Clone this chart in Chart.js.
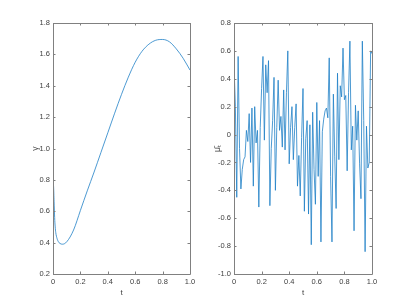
<!DOCTYPE html>
<html>
<head>
<meta charset="utf-8">
<script src="https://cdn.jsdelivr.net/npm/chart.js@4/dist/chart.umd.min.js"></script>
<style>
  html, body { margin: 0; padding: 0; background: #fff; }
  body { width: 411px; height: 308px; position: relative; overflow: hidden; }
  .panel { position: absolute; top: 0; }
</style>
</head>
<body>
<div class="panel" style="left:0;width:200px;height:308px"><canvas id="gamma"></canvas></div>
<div class="panel" style="left:200px;width:211px;height:308px"><canvas id="mu"></canvas></div>
<script>
// left panel: gamma(t)
var tGamma = [0, 0.004, 0.008, 0.012, 0.016, 0.02, 0.03, 0.04, 0.05, 0.07, 0.1, 0.15, 0.2, 0.25, 0.3, 0.35, 0.4, 0.45, 0.5, 0.55, 0.6, 0.65, 0.7, 0.75, 0.8, 0.85, 0.9, 0.95, 1];
var gamma = [0.78, 0.76, 0.66, 0.56, 0.5, 0.465, 0.425, 0.405, 0.395, 0.39, 0.405, 0.48, 0.605, 0.73, 0.85, 0.975, 1.1, 1.225, 1.345, 1.455, 1.55, 1.62, 1.665, 1.69, 1.695, 1.68, 1.635, 1.575, 1.5];

// right panel: mu bar_t
var tMu = [0, 0.01, 0.02, 0.03, 0.04, 0.05, 0.06, 0.07, 0.08, 0.09,
  0.1, 0.11, 0.12, 0.13, 0.14, 0.15, 0.16, 0.17, 0.18, 0.19,
  0.2, 0.21, 0.22, 0.23, 0.24, 0.25, 0.26, 0.27, 0.28, 0.29,
  0.3, 0.31, 0.32, 0.33, 0.34, 0.35, 0.36, 0.37, 0.38, 0.39,
  0.4, 0.41, 0.42, 0.43, 0.44, 0.45, 0.46, 0.47, 0.48, 0.49,
  0.5, 0.51, 0.52, 0.53, 0.54, 0.55, 0.56, 0.57, 0.58, 0.59,
  0.6, 0.61, 0.62, 0.63, 0.64, 0.65, 0.66, 0.67, 0.68, 0.69,
  0.7, 0.71, 0.72, 0.73, 0.74, 0.75, 0.76, 0.77, 0.78, 0.79,
  0.8, 0.81, 0.82, 0.83, 0.84, 0.85, 0.86, 0.87, 0.88, 0.89,
  0.9, 0.91, 0.92, 0.93, 0.94, 0.95, 0.96, 0.97, 0.98, 0.99, 1];
var mu = [0.5, 0.2, -0.45, 0.56, -0.1, -0.39, -0.25, -0.18, -0.16, 0.03,
  -0.05, 0.15, -0.2, 0.19, -0.37, 0.2, -0.06, 0.03, -0.52, 0.05,
  0.33, 0.56, -0.04, 0.5, 0.3, 0.53, -0.51, -0.1, 0.1, 0.41,
  -0.4, 0.05, 0.39, 0.03, 0.13, -0.09, 0.32, -0.11, 0.3, 0.6,
  -0.21, 0.05, 0.2, -0.18, 0.05, 0.22, -0.37, -0.15, -0.44, -0.02,
  0.33, -0.55, -0.03, 0.1, -0.57, 0.07, -0.79, 0.16, -0.25, -0.5,
  0.23, -0.3, 0.1, -0.77, 0.02, 0.11, 0.17, 0.19, 0.12, 0.55,
  -0.3, -0.77, 0.29, -0.16, -0.53, 0.44, -0.18, 0.35, 0.27, 0.62,
  0.25, 0.28, -0.26, 0.3, 0.67, -0.11, 0.06, -0.69, 0.21, -0.04,
  0.17, -0.21, -0.46, 0.67, 0.1, -0.84, 0.06, -0.24, -0.2, 0.6, 0.58];

var tTicks = [0, 0.2, 0.4, 0.6, 0.8, 1];
var gammaTicks = [0.2, 0.4, 0.6, 0.8, 1, 1.2, 1.4, 1.6, 1.8];
var muTicks = [-1, -0.8, -0.6, -0.4, -0.2, 0, 0.2, 0.4, 0.6, 0.8];

var lineColor = "#1f80c6";
var axisColor = "#808080";
var textColor = "#404040";
var fontFam = "'Liberation Sans', Arial, Helvetica, sans-serif";

// box around the axes with inward ticks on all four sides
var axesBox = {
  id: "axesBox",
  afterDraw: function (chart) {
    var ctx = chart.ctx;
    var a = chart.chartArea;
    var sx = chart.scales.x;
    var sy = chart.scales.y;
    var len = 2.5;
    ctx.save();
    ctx.strokeStyle = axisColor;
    ctx.lineWidth = 1;
    ctx.beginPath();
    ctx.rect(Math.round(a.left) + 0.5, Math.round(a.top) + 0.5,
      Math.round(a.right) - Math.round(a.left), Math.round(a.bottom) - Math.round(a.top));
    sx.ticks.forEach(function (t) {
      var px = Math.round(sx.getPixelForValue(t.value)) + 0.5;
      ctx.moveTo(px, a.bottom); ctx.lineTo(px, a.bottom - len);
      ctx.moveTo(px, a.top); ctx.lineTo(px, a.top + len);
    });
    sy.ticks.forEach(function (t) {
      var py = Math.round(sy.getPixelForValue(t.value)) + 0.5;
      ctx.moveTo(a.left, py); ctx.lineTo(a.left + len, py);
      ctx.moveTo(a.right, py); ctx.lineTo(a.right - len, py);
    });
    ctx.stroke();
    ctx.restore();
  }
};

function toPoints(xs, ys) {
  return xs.map(function (x, i) { return { x: x, y: ys[i] }; });
}

function makeConfig(xs, ys, yTicks, yTitle, opts) {
  return {
    type: "line",
    data: {
      datasets: [{
        data: toPoints(xs, ys),
        borderColor: lineColor,
        borderWidth: 0.8,
        pointRadius: 0,
        tension: opts.tension,
        cubicInterpolationMode: opts.cubic ? "monotone" : "default",
        fill: false
      }]
    },
    options: {
      responsive: false,
      animation: false,
      devicePixelRatio: 1,
      layout: { padding: { top: 23, right: opts.padRight, bottom: 0, left: 0 } },
      plugins: { legend: { display: false }, tooltip: { enabled: false } },
      scales: {
        x: {
          type: "linear",
          min: 0,
          max: 1,
          afterBuildTicks: function (s) { s.ticks = tTicks.map(function (v) { return { value: v }; }); },
          afterFit: function (s) { s.height = 34; },
          grid: { display: true, drawOnChartArea: false, drawTicks: false },
          border: { display: false },
          ticks: { color: textColor, padding: 3, maxRotation: 0, font: { family: fontFam, size: 7.5 } },
          title: { display: true, text: "t", color: textColor, padding: { top: 0, bottom: 10 }, font: { family: fontFam, size: 8 } }
        },
        y: {
          type: "linear",
          min: yTicks[0],
          max: yTicks[yTicks.length - 1],
          afterBuildTicks: function (s) { s.ticks = yTicks.map(function (v) { return { value: v }; }); },
          afterFit: function (s) { s.width = opts.yWidth; },
          grid: { display: true, drawOnChartArea: false, drawTicks: false },
          border: { display: false },
          ticks: { color: textColor, padding: 3, font: { family: fontFam, size: 7.5 } },
          title: { display: true, text: yTitle, color: textColor, padding: { top: opts.titlePad, bottom: 0 }, font: { family: fontFam, size: 8.5 } }
        }
      }
    },
    plugins: [axesBox]
  };
}

var c1 = document.getElementById("gamma");
c1.width = 200; c1.height = 308;
new Chart(c1, makeConfig(tGamma, gamma, gammaTicks, "γ", { tension: 0.4, cubic: true, padRight: 10, yWidth: 53, titlePad: 31 }));

var c2 = document.getElementById("mu");
c2.width = 211; c2.height = 308;
new Chart(c2, makeConfig(tMu, mu, muTicks, "μ̄ₜ", { tension: 0, cubic: false, padRight: 39, yWidth: 34, titlePad: 13 }));
</script>
</body>
</html>
